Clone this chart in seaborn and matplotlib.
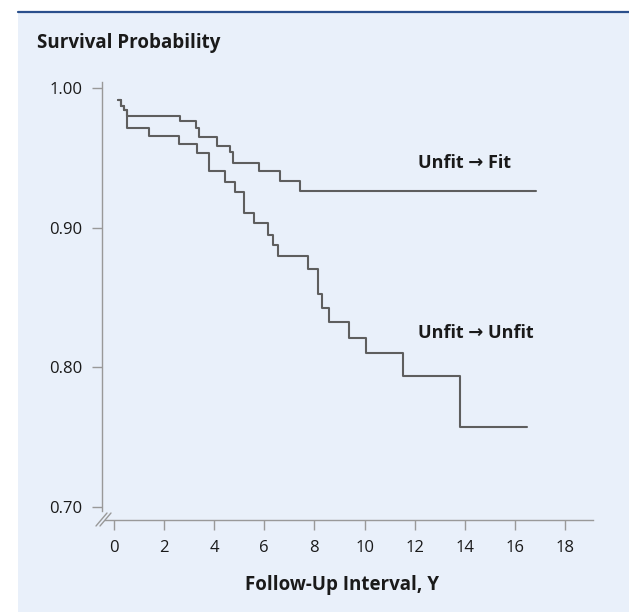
import matplotlib
matplotlib.use('Agg')
import pandas as pd
import matplotlib.pyplot as plt
import seaborn as sns
from matplotlib.patches import Rectangle
from matplotlib.lines import Line2D

# Kaplan-Meier steps (time in years, survival probability)
fit_time = [0.19, 0.29, 0.42, 0.55, 2.65, 3.29, 3.41, 4.11, 4.64, 4.76, 5.78, 6.63, 7.43, 16.83]
fit_surv = [0.9916, 0.9873, 0.9844, 0.9800, 0.9768, 0.9715, 0.9649, 0.9589, 0.9545, 0.9467,
            0.9407, 0.9335, 0.9264, 0.9264]

unfit_time = [0.19, 0.29, 0.42, 0.55, 1.43, 2.61, 3.33, 3.80, 4.42, 4.82, 5.18, 5.60, 6.17,
              6.34, 6.55, 7.76, 8.16, 8.30, 8.60, 9.38, 10.05, 11.52, 13.80, 16.46]
unfit_surv = [0.9916, 0.9873, 0.9844, 0.9718, 0.9658, 0.9597, 0.9533, 0.9407, 0.9328, 0.9257,
              0.9108, 0.9032, 0.8948, 0.8877, 0.8798, 0.8703, 0.8525, 0.8423, 0.8327, 0.8208,
              0.8100, 0.7938, 0.7574, 0.7574]

y_ticks = [0.70, 0.80, 0.90, 1.00]
y_labels = ['0.70', '0.80', '0.90', '1.00']
x_ticks = list(range(0, 20, 2))

curves = pd.concat([
    pd.DataFrame({'time': fit_time, 'surv': fit_surv, 'group': 'Unfit → Fit'}),
    pd.DataFrame({'time': unfit_time, 'surv': unfit_surv, 'group': 'Unfit → Unfit'}),
])

sns.set_theme(style='white')
plt.rcParams['font.family'] = ['Open Sans', 'DejaVu Sans']

BG = '#e9f0fa'
FS = 13.5      # axis titles
LS = 13        # curve labels
TS = 12        # tick labels
fig = plt.figure(figsize=(6.29, 6.12), dpi=100)
fig.patch.set_facecolor('white')
fig.patches.append(Rectangle((18 / 629, 0), 1, 600 / 612, transform=fig.transFigure,
                             facecolor=BG, edgecolor='none', zorder=-10))
fig.lines.append(Line2D([18 / 629, 1], [600 / 612, 600 / 612], transform=fig.transFigure,
                        color='#2a4f8c', lw=1.6, zorder=-9))

ax = fig.add_axes([101.5 / 629, 92 / 612, 491.5 / 629, 438 / 612])
ax.set_facecolor('none')

sns.lineplot(data=curves, x='time', y='surv', hue='group', palette=['#5e5e5e', '#5e5e5e'],
             estimator=None, sort=False, drawstyle='steps-post', lw=1.5, legend=False, ax=ax)

ax.set_xlim(-0.48, 19.1)
ax.set_ylim(0.6905, 1.0045)
ax.set_xticks(x_ticks)
ax.set_yticks(y_ticks)
ax.set_yticklabels(y_labels)
ax.set_xlabel('')
ax.set_ylabel('')

for s in ['top', 'right']:
    ax.spines[s].set_visible(False)
ax.spines['left'].set_color('#999999')
ax.spines['bottom'].set_color('#999999')
ax.spines['left'].set_linewidth(1.0)
ax.spines['bottom'].set_linewidth(1.0)
ax.spines['left'].set_bounds(0.6969, 1.0045)
ax.spines['bottom'].set_bounds(-0.34, 19.1)
ax.tick_params(axis='y', direction='out', length=7, width=1, color='#999999',
               labelsize=TS, labelcolor='#1a1a1a', pad=7, left=True)
ax.tick_params(axis='x', direction='out', length=7.5, width=1, color='#999999',
               labelsize=TS, labelcolor='#1a1a1a', pad=7, bottom=True)

# axis break marks
for dx in (0, 4):
    ax.plot([(96 + dx - 101.5) / 491.5, (107 + dx - 101.5) / 491.5],
            [(520 - 526) / 438, (520 - 513) / 438], transform=ax.transAxes,
            color='#999999', lw=1.0, clip_on=False)

ax.text(12.13, 0.9463, 'Unfit → Fit', fontsize=LS, fontweight='bold', ha='left', va='center',
        color='#1a1a1a')
ax.text(12.13, 0.8246, 'Unfit → Unfit', fontsize=LS, fontweight='bold', ha='left', va='center',
        color='#1a1a1a')

fig.text(37 / 629, 1 - 43 / 612, 'Survival Probability', fontsize=FS, fontweight='bold',
         ha='left', va='center', color='#1a1a1a')
fig.text(342 / 629, 1 - 585 / 612, 'Follow-Up Interval, Y', fontsize=FS, fontweight='bold',
         ha='center', va='center', color='#1a1a1a')

fig.savefig('out.png', dpi=100, facecolor=fig.get_facecolor())
